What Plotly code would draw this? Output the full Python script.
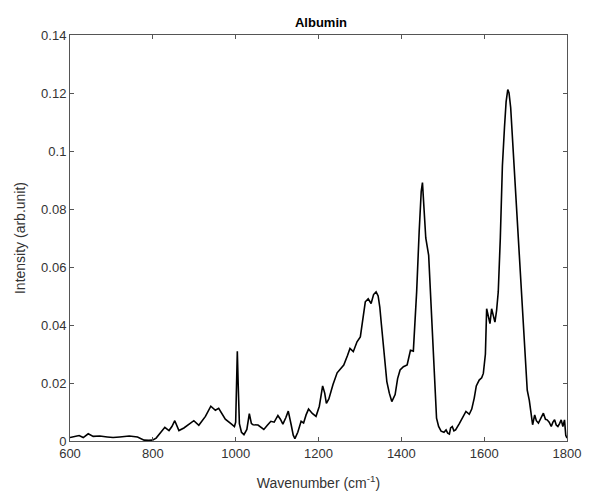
import plotly.graph_objects as go

wavenumber = [600, 610, 622, 632, 644, 656, 672, 690, 704, 720, 743, 763, 772, 779, 790, 799, 808, 815,
              829, 839, 846, 853, 863, 875, 887, 899, 911, 927, 940, 951, 959, 975, 990, 997,
              1000, 1002, 1004, 1006, 1009, 1014, 1020, 1027, 1033, 1038, 1042, 1054, 1068, 1077,
              1085, 1093, 1102, 1108, 1114, 1121, 1127, 1134, 1139, 1143, 1150, 1158, 1164, 1170,
              1176, 1185, 1194, 1202, 1210, 1215, 1219, 1225, 1235, 1245, 1253, 1261, 1270, 1276,
              1284, 1293, 1301, 1307, 1313, 1320, 1327, 1333, 1339, 1344, 1348, 1352, 1357, 1365,
              1371, 1377, 1385, 1391, 1397, 1405, 1414, 1422, 1429, 1433, 1437, 1443, 1448, 1451,
              1455, 1459, 1466, 1471, 1477, 1481, 1485, 1490, 1496, 1503, 1508, 1512, 1516, 1519,
              1523, 1527, 1531, 1540, 1548, 1556, 1564, 1570, 1576, 1581, 1588, 1594, 1598, 1603,
              1606, 1610, 1614, 1618, 1622, 1626, 1630, 1634, 1639, 1644, 1649, 1653, 1657, 1660,
              1664, 1668, 1672, 1677, 1682, 1687, 1692, 1698, 1704, 1709, 1713, 1717, 1722, 1726,
              1731, 1737, 1743, 1748, 1752, 1757, 1762, 1766, 1770, 1774, 1778, 1782, 1786, 1790,
              1794, 1797, 1800]
intensity = [0.0012, 0.0014, 0.0019, 0.0012, 0.0025, 0.0016, 0.0017, 0.0014, 0.0012, 0.0014, 0.0017,
             0.0014, 0.0008, 0.0003, 0.0002, 0.0003, 0.0010, 0.0022,
             0.0047, 0.0036, 0.0050, 0.0070, 0.0036, 0.0045, 0.0058, 0.0070, 0.0054, 0.0085, 0.0120,
             0.0106, 0.0113, 0.0075, 0.0058, 0.0050,
             0.0065, 0.0200, 0.0309, 0.0200, 0.0060, 0.0030, 0.0022, 0.0040, 0.0094, 0.0060, 0.0056,
             0.0055, 0.0040, 0.0055,
             0.0068, 0.0065, 0.0088, 0.0075, 0.0058, 0.0080, 0.0103, 0.0056, 0.0020, 0.0008, 0.0030,
             0.0068, 0.0062, 0.0090,
             0.0110, 0.0095, 0.0085, 0.0120, 0.0190, 0.0165, 0.0130, 0.0145, 0.0195, 0.0235, 0.0250,
             0.0262, 0.0295, 0.0319,
             0.0308, 0.0342, 0.0359, 0.0420, 0.0480, 0.0490, 0.0474, 0.0505, 0.0514, 0.0500, 0.0462,
             0.0400, 0.0319, 0.0205,
             0.0165, 0.0136, 0.0160, 0.0215, 0.0245, 0.0256, 0.0262, 0.0313, 0.0310, 0.0400, 0.0515,
             0.0720, 0.0860, 0.0891,
             0.0800, 0.0700, 0.0640, 0.0480, 0.0285, 0.0150, 0.0079, 0.0050, 0.0034, 0.0030, 0.0038,
             0.0027, 0.0024, 0.0045,
             0.0050, 0.0035, 0.0038, 0.0060, 0.0080, 0.0102, 0.0092, 0.0110, 0.0148, 0.0190, 0.0210,
             0.0218, 0.0233, 0.0300,
             0.0456, 0.0430, 0.0405, 0.0456, 0.0430, 0.0410, 0.0450, 0.0514, 0.0700, 0.0948, 0.1080,
             0.1170, 0.1212, 0.1200,
             0.1150, 0.1050, 0.0930, 0.0810, 0.0690, 0.0565, 0.0440, 0.0290, 0.0175, 0.0140, 0.0090,
             0.0056, 0.0090, 0.0070,
             0.0062, 0.0080, 0.0096, 0.0075, 0.0073, 0.0065, 0.0050, 0.0065, 0.0073, 0.0055, 0.0050,
             0.0060, 0.0073, 0.0050,
             0.0073, 0.0020, 0.0010]

x_ticks = [600, 800, 1000, 1200, 1400, 1600, 1800]
y_ticks = [0, 0.02, 0.04, 0.06, 0.08, 0.1, 0.12, 0.14]
y_tick_labels = ["0", "0.02", "0.04", "0.06", "0.08", "0.1", "0.12", "0.14"]

fig = go.Figure()
fig.add_trace(go.Scatter(x=wavenumber, y=intensity, mode="lines",
                         line=dict(color="black", width=1.6), showlegend=False))

axis_common = dict(showgrid=False, zeroline=False, showline=True, linecolor="#555555",
                   linewidth=1, mirror="ticks", ticks="inside", ticklen=4, tickcolor="#555555",
                   tickfont=dict(family="Liberation Sans, Arial", size=13, color="#333333"))

fig.update_layout(
    width=593, height=500,
    margin=dict(l=70, r=21, t=35, b=57),
    paper_bgcolor="white", plot_bgcolor="white",
    title=dict(text="<b>Albumin</b>", x=0.5413, xanchor="center", y=0.955, yanchor="middle",
               font=dict(family="Liberation Sans, Arial", size=13, color="black")),
    xaxis=dict(range=[600, 1800], tickvals=x_ticks,
               title=dict(text="Wavenumber (cm<sup>-1</sup>)", standoff=18,
                          font=dict(family="Liberation Sans, Arial", size=14, color="#333333")),
               **axis_common),
    yaxis=dict(range=[0, 0.14], tickvals=y_ticks, ticktext=y_tick_labels,
               title=dict(text="Intensity (arb.unit)", standoff=12,
                          font=dict(family="Liberation Sans, Arial", size=14, color="#333333")),
               **axis_common),
)

fig.write_html("out.html")
